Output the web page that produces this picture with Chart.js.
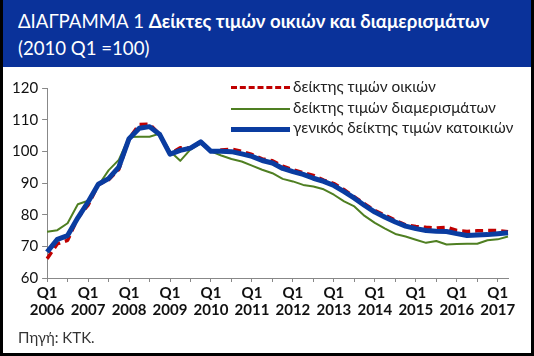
<!DOCTYPE html>
<html>
<head>
<meta charset="utf-8">
<script src="https://cdn.jsdelivr.net/npm/chart.js@4.4.1/dist/chart.umd.min.js"></script>
<style>
  html, body { margin:0; padding:0; }
  body { width:534px; height:356px; position:relative; overflow:hidden; background:#000; font-family: Lato, "Open Sans", sans-serif; }
  #frame { position:absolute; left:3px; top:0; width:528px; height:353px; background:#fff; }
  #title { position:absolute; left:0; top:0; width:528px; height:67px; background:#0A329A; color:#fff; }
  #t1 { position:absolute; left:15px; top:10px; font-size:18.6px; white-space:nowrap; }
  #t2 { position:absolute; left:15px; top:37px; font-size:18.6px; white-space:nowrap; }
  #src { position:absolute; left:18px; top:328px; font-size:15px; color:#333; }
  canvas { position:absolute; left:0; top:0; }
  #legend { position:absolute; left:231px; top:78px; font-size:15.4px; color:#222; }
  .li { position:relative; height:20.5px; white-space:nowrap; }
  .ln { position:absolute; left:0; width:59px; }
  .lt { position:absolute; left:62px; top:-1px; }
</style>
</head>
<body>
<div id="frame">
  <div id="title">
    <div id="t1">ΔΙΑΓΡΑΜΜΑ 1 <b>Δείκτες τιμών οικιών και διαμερισμάτων</b></div>
    <div id="t2">(2010 Q1 =100)</div>
  </div>
</div>
<canvas id="c" width="534" height="356"></canvas>
<div id="legend"></div>
<div id="src">Πηγή: ΚΤΚ.</div>
<script>
const years = ["2006","2007","2008","2009","2010","2011","2012","2013","2014","2015","2016","2017"];
const quarters = ["Q1","Q2","Q3","Q4"];
const seriesNames = ["δείκτης τιμών οικιών","δείκτης τιμών διαμερισμάτων","γενικός δείκτης τιμών κατοικιών"];
const houses = [66.1,70.8,71.9,79.0,83.0,89.5,91.0,94.3,104.0,108.5,108.6,105.3,99.2,101.1,101.0,103.0,100.0,100.4,100.7,100.0,99.0,97.6,97.0,95.3,94.2,93.2,92.4,90.9,89.8,87.9,85.6,83.4,81.3,79.8,78.2,76.8,76.3,76.0,75.8,76.0,75.0,74.7,74.9,75.0,75.0,74.6];
const apartments = [74.6,75.1,77.3,83.3,84.4,89.2,94.0,97.3,104.5,104.6,104.6,105.6,100.0,97.0,100.6,102.4,100.0,98.7,97.6,96.8,95.5,94.2,93.1,91.3,90.5,89.4,88.9,88.0,86.3,84.2,82.6,79.6,77.4,75.6,73.9,73.1,72.1,71.1,71.7,70.6,70.7,70.8,70.8,71.9,72.2,73.1];
const general = [68.2,72.2,73.4,79.0,84.0,89.6,91.4,95.0,104.0,107.3,107.8,105.3,99.1,100.3,101.0,103.0,100.0,100.0,99.9,99.2,98.4,97.1,96.3,94.6,93.6,92.7,91.5,90.5,89.2,87.3,85.2,82.9,80.8,79.2,77.7,76.4,75.6,75.0,74.8,74.7,74.0,73.4,73.6,73.7,74.0,74.3];
const yTicks = [60,70,80,90,100,110,120];

const labels = [];
years.forEach(y => quarters.forEach(q => { if (labels.length < houses.length) labels.push(q === "Q1" ? ["Q1", y] : ""); }));

const colors = ["#C00000","#4F7F22","#0A3CA0"];
const widths = [3.5, 2, 5];
const dashes = [[8,5], [], []];

const datasets = [houses, apartments, general].map((d,i) => ({
  label: seriesNames[i], data: d, borderColor: colors[i], backgroundColor: colors[i],
  borderWidth: widths[i], borderDash: dashes[i], pointRadius: 0, tension: 0, fill: false,
  borderCapStyle: 'butt', borderJoinStyle: 'round'
}));
datasets[0].order = 2; datasets[1].order = 3; datasets[2].order = 1;

const lg = document.getElementById('legend');
seriesNames.forEach((n,i) => {
  const row = document.createElement('div'); row.className = 'li';
  const ln = document.createElement('div'); ln.className = 'ln';
  const h = widths[i];
  ln.style.top = (10 - h/2) + 'px'; ln.style.height = '0px';
  ln.style.borderTop = h + 'px ' + (dashes[i].length ? 'dashed ' : 'solid ') + colors[i];
  const t = document.createElement('div'); t.className = 'lt'; t.textContent = n;
  row.appendChild(ln); row.appendChild(t); lg.appendChild(row);
});

new Chart(document.getElementById('c'), {
  type: 'line',
  data: { labels, datasets },
  options: {
    responsive: false, animation: false, devicePixelRatio: 1,
    layout: { padding: { left: 8, right: 26, top: 88, bottom: 35 } },
    plugins: { legend: { display: false }, tooltip: { enabled: false } },
    scales: {
      x: {
        offset: false,
        grid: { drawOnChartArea: false, drawTicks: true, tickLength: 4,
                tickColor: ctx => (ctx.index % 2 === 0 ? '#888' : 'rgba(0,0,0,0)') , color: '#888'},
        border: { color: '#888', width: 1 },
        ticks: { autoSkip: false, maxRotation: 0, minRotation: 0, color: '#111', padding: 3,
                 font: { family: 'Lato, "Open Sans", sans-serif', size: 15, weight: 'bold', lineHeight: 1.1 } }
      },
      y: {
        min: 60, max: 120,
        afterBuildTicks: axis => { axis.ticks = yTicks.map(v => ({ value: v })); },
        grid: { drawOnChartArea: false, tickLength: 5, tickColor: '#888' },
        border: { color: '#888', width: 1 },
        ticks: { color: '#111', padding: 4, font: { family: 'Lato, "Open Sans", sans-serif', size: 15 } }
      }
    }
  }
});
</script>
</body>
</html>
